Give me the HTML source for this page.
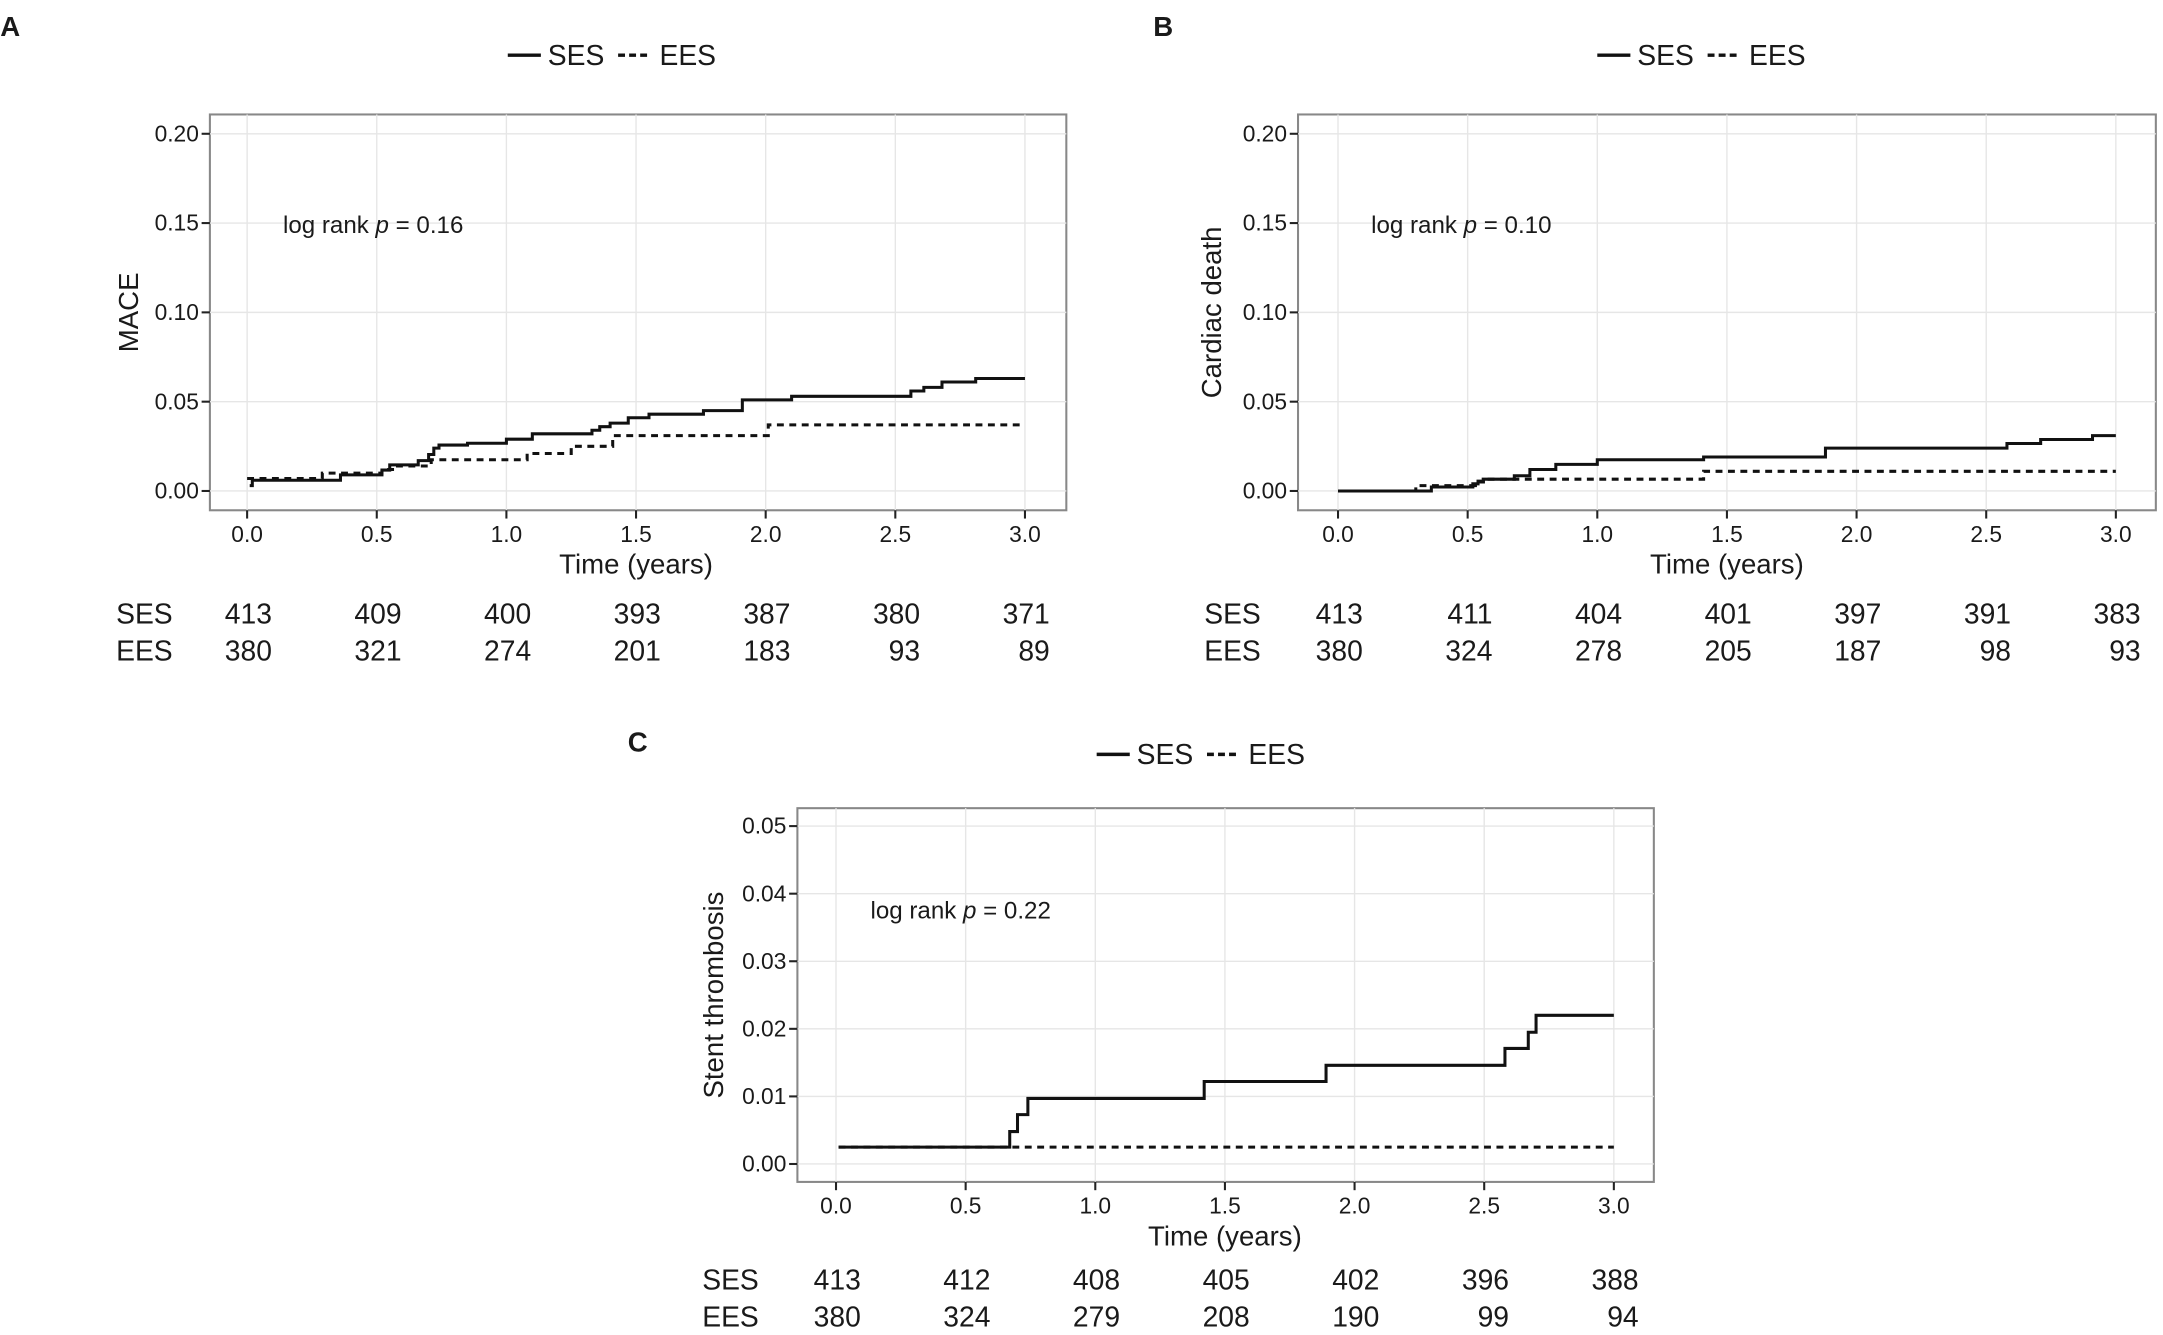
<!DOCTYPE html>
<html><head><meta charset="utf-8">
<style>
html,body{margin:0;padding:0;background:#fff;}
svg{display:block;}
text{font-family:"Liberation Sans Narrow","Liberation Sans",sans-serif;fill:#1a1a1a;}
</style></head>
<body>
<svg id="fig" width="2163" height="1335" viewBox="0 0 1568 968" xmlns="http://www.w3.org/2000/svg"></svg>
<script>
const xTicks=[0,0.5,1,1.5,2,2.5,3];
const xTickLabels=["0.0","0.5","1.0","1.5","2.0","2.5","3.0"];
const aYTicks=[0,0.05,0.1,0.15,0.2];
const aYLabels=["0.00","0.05","0.10","0.15","0.20"];
const cYTicks=[0,0.01,0.02,0.03,0.04,0.05];
const cYLabels=["0.00","0.01","0.02","0.03","0.04","0.05"];
const aSesT=[0.01,0.02,0.36,0.52,0.55,0.66,0.70,0.72,0.74,0.85,1.0,1.10,1.33,1.36,1.40,1.47,1.55,1.76,1.91,2.10,2.56,2.61,2.68,2.81,3.0];
const aSesV=[0.003,0.006,0.009,0.0117,0.0146,0.017,0.0204,0.024,0.0257,0.0267,0.029,0.032,0.034,0.036,0.038,0.041,0.043,0.045,0.051,0.053,0.056,0.058,0.061,0.063,0.063];
const aEesT=[0.0,0.29,0.52,0.58,0.71,1.08,1.25,1.41,2.01,3.0];
const aEesV=[0.007,0.010,0.012,0.014,0.0175,0.021,0.025,0.031,0.037,0.037];
const bSesT=[0.0,0.36,0.52,0.54,0.56,0.68,0.74,0.84,1.0,1.41,1.88,2.58,2.71,2.91,3.0];
const bSesV=[0,0.0022,0.004,0.0055,0.0066,0.0085,0.012,0.0149,0.0175,0.019,0.024,0.0266,0.0288,0.031,0.031];
const bEesT=[0.0,0.30,0.53,0.57,1.41,3.0];
const bEesV=[0,0.003,0.005,0.0066,0.011,0.011];
const cSesT=[0.01,0.67,0.70,0.74,1.42,1.89,2.58,2.67,2.70,3.0];
const cSesV=[0.0025,0.0048,0.0073,0.0097,0.0122,0.0146,0.0171,0.0195,0.022,0.022];
const cEesT=[0.01,3.0];
const cEesV=[0.0025,0.0025];
const aRiskSes=["413","409","400","393","387","380","371"];
const aRiskEes=["380","321","274","201","183","93","89"];
const bRiskSes=["413","411","404","401","397","391","383"];
const bRiskEes=["380","324","278","205","187","98","93"];
const cRiskSes=["413","412","408","405","402","396","388"];
const cRiskEes=["380","324","279","208","190","99","94"];

const svg=document.getElementById('fig');
const NS="http://www.w3.org/2000/svg";
function mk(tag,attrs,parent){const e=document.createElementNS(NS,tag);for(const k in attrs)e.setAttribute(k,attrs[k]);(parent||svg).appendChild(e);return e;}
function txt(s,attrs,parent){const e=mk('text',attrs,parent);e.textContent=s;return e;}

function panel(p){
  const g=mk('g',{});
  
  
  const x=t=>p.x0+(t-0)/(3-0)*(p.x3-p.x0);
  const y=v=>p.yb-(v-p.yTicks[0])/(p.yTicks[p.yTicks.length-1]-p.yTicks[0])*(p.yb-p.yt);
  const box=mk('rect',{x:p.L,y:p.T,width:p.R-p.L,height:p.B-p.T,fill:'#fff',stroke:'#888','stroke-width':1.5},g);
  
  
  xTicks.forEach((t,i)=>{
    const gl=mk('line',{x1:x(t),x2:x(t),y1:p.T,y2:p.B,stroke:'#e6e6e6','stroke-width':1},g);
    
    
    mk('line',{x1:x(t),x2:x(t),y1:p.B,y2:p.B+6,stroke:'#222','stroke-width':1.5},g);
    const tl=txt(xTickLabels[i],{x:x(t),y:p.B+23,'text-anchor':'middle','font-size':16.5},g);
    
    
  });
  p.yTicks.forEach((v,i)=>{
    const gl=mk('line',{x1:p.L,x2:p.R,y1:y(v),y2:y(v),stroke:'#e6e6e6','stroke-width':1},g);
    
    
    mk('line',{x1:p.L-6,x2:p.L,y1:y(v),y2:y(v),stroke:'#222','stroke-width':1.5},g);
    const tl=txt(p.yLabels[i],{x:p.L-8,y:y(v)+5.5,'text-anchor':'end','font-size':16.5},g);
    
    
  });
  function step(T,V,dash,name){
    let d='M'+x(T[0])+','+y(V[0]);
    for(let i=1;i<T.length;i++){d+=' H'+x(T[i])+' V'+y(V[i]);}
    const a={d:d,fill:'none',stroke:'#111','stroke-width':2.2};
    if(dash)a['stroke-dasharray']='5,4';
    const e=mk('path',a,g);
    
    
  }
  step(p.eT,p.eV,true,'ees-curve-'+p.id);
  step(p.sT,p.sV,false,'ses-curve-'+p.id);
  const yl=txt(p.ylab,{transform:'translate('+p.ylx+','+((p.T+p.B)/2)+') rotate(-90)','text-anchor':'middle','font-size':20,style:'font-family:"Liberation Sans",sans-serif'},g);
  
  
  const xl=txt('Time (years)',{x:(p.x0+p.x3)/2,y:p.B+46,'text-anchor':'middle','font-size':20},g);
  
  
  const lr=txt('',{x:p.lrx,y:p.lry,'font-size':17.5},g);
  
  
  lr.innerHTML='log rank <tspan font-style="italic">p</tspan> = '+p.pv;
  const pl=txt(p.id.toUpperCase(),{x:p.lx,y:p.ly,'font-size':20,'font-weight':'bold',style:'font-family:"Liberation Sans",sans-serif'},g);
  
  
  const lg=mk('g',{},g);
  
  
  mk('line',{x1:p.legx,x2:p.legx+24,y1:p.legy,y2:p.legy,stroke:'#111','stroke-width':2.5},lg);
  txt('SES',{x:p.legx+29,y:p.legy+7,'font-size':20.5},lg);
  mk('line',{x1:p.legx+80,x2:p.legx+104,y1:p.legy,y2:p.legy,stroke:'#111','stroke-width':2.5,'stroke-dasharray':'5,3'},lg);
  txt('EES',{x:p.legx+110,y:p.legy+7,'font-size':20.5},lg);
  [['SES',p.rs,p.r1],['EES',p.re,p.r2]].forEach(r=>{
    const rl=txt(r[0],{x:p.rlx,y:r[2],'font-size':20.5},g);
    
    
    xTicks.forEach((t,i)=>{
      const c=txt(r[1][i],{x:x(t)+18,y:r[2],'text-anchor':'end','font-size':20.5},g);
      
      
    });
  });
}
panel({id:'a',L:152,R:773,T:83,B:370,x0:179,x3:743,yb:356,yt:97,yTicks:aYTicks,yLabels:aYLabels,
  sT:aSesT,sV:aSesV,eT:aEesT,eV:aEesV,ylab:'MACE',ylx:100,lrx:205,lry:169,pv:'0.16',lx:0,ly:26,
  legx:368,legy:40,rs:aRiskSes,re:aRiskEes,r1:452,r2:479,rlx:84});
panel({id:'b',L:941,R:1563,T:83,B:370,x0:970,x3:1534,yb:356,yt:97,yTicks:aYTicks,yLabels:aYLabels,
  sT:bSesT,sV:bSesV,eT:bEesT,eV:bEesV,ylab:'Cardiac death',ylx:885,lrx:994,lry:169,pv:'0.10',lx:836,ly:26,
  legx:1158,legy:40,rs:bRiskSes,re:bRiskEes,r1:452,r2:479,rlx:873});
panel({id:'c',L:578,R:1199,T:586,B:857,x0:606,x3:1170,yb:844,yt:599,yTicks:cYTicks,yLabels:cYLabels,
  sT:cSesT,sV:cSesV,eT:cEesT,eV:cEesV,ylab:'Stent thrombosis',ylx:524,lrx:631,lry:666,pv:'0.22',lx:455,ly:545,
  legx:795,legy:547,rs:cRiskSes,re:cRiskEes,r1:935,r2:962,rlx:509});
</script>
</body></html>
